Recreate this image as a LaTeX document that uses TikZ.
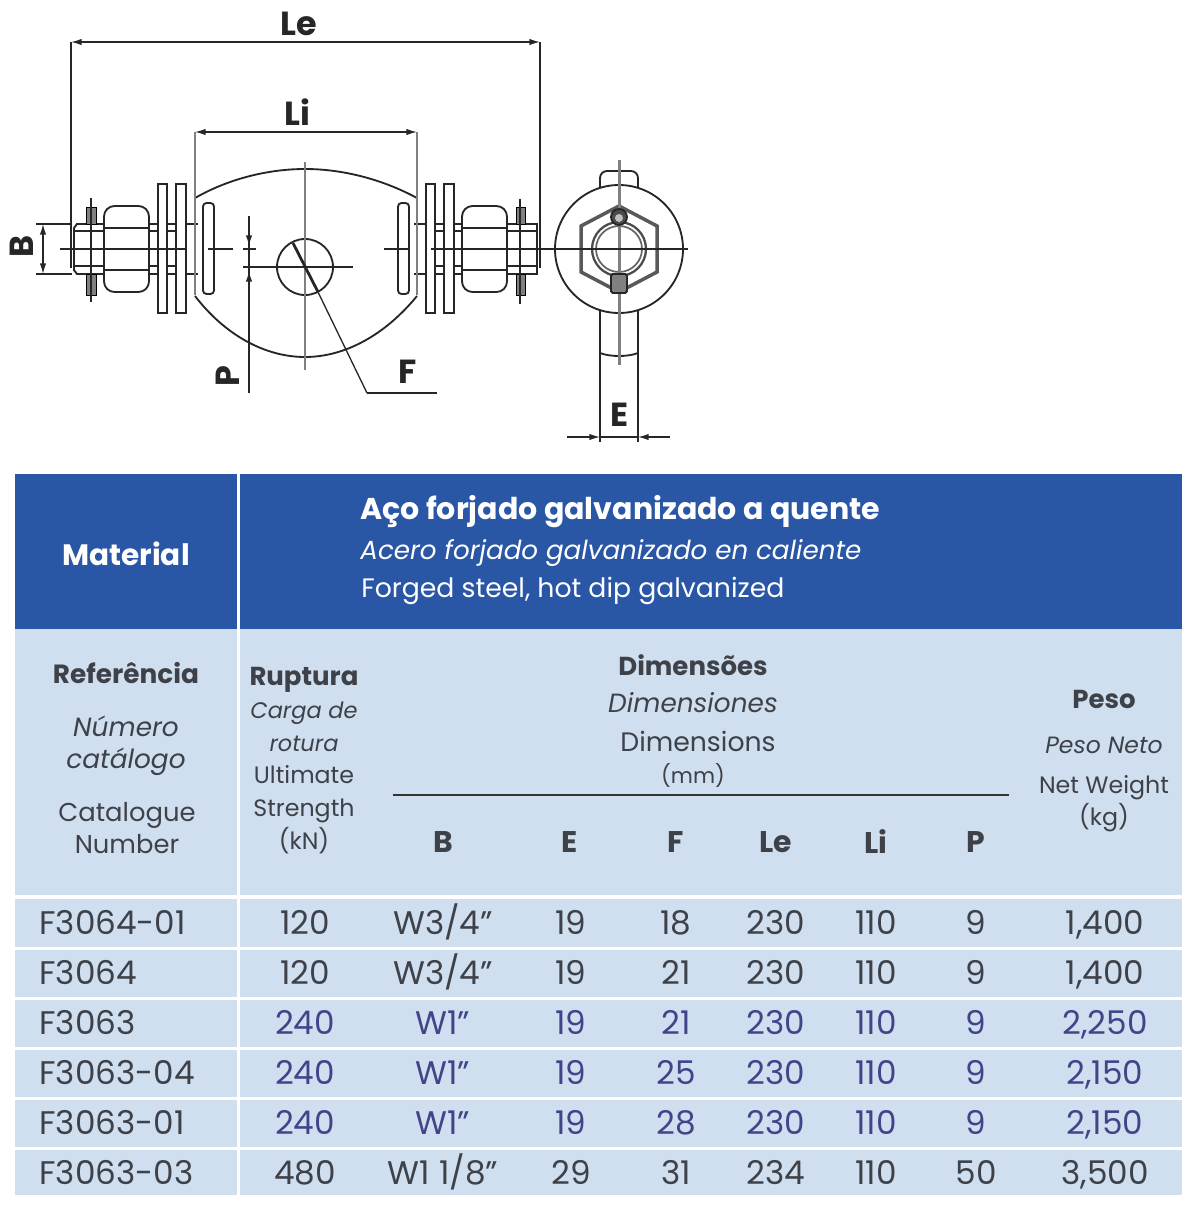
\documentclass[tikz,border=0pt]{standalone}
\usepackage{fontspec}
\setmainfont[Numbers=Monospaced]{Poppins}
\usetikzlibrary{arrows.meta}
\definecolor{headblue}{HTML}{2A56A6}
\definecolor{bodyblue}{HTML}{CFDFF0}
\definecolor{inkgrey}{HTML}{3E4148}
\definecolor{inkblue}{HTML}{3F4588}
\definecolor{axisgrey}{HTML}{808080}
\tikzset{
	part/.style={line width=1.05pt, color=black!85},
	thinpart/.style={line width=0.7pt, color=black!85},
	axis/.style={line width=1.7pt, color=axisgrey},
	dimline/.style={line width=0.75pt, color=black!85},
	dimtip/.style={>={Latex[length=6pt,width=3.6pt]}},
	dimarrow/.style={dimline, dimtip, <->},
	dimtext/.style={inner sep=0pt, color=black!85, font=\fontsize{19}{22}\selectfont\bfseries},
	cell/.style={inner sep=0pt, text height=13pt, text depth=0pt, color=inkgrey, font=\fontsize{18.6}{20}\selectfont},
	cellblue/.style={cell, color=inkblue},
	refcell/.style={cell, anchor=west},
	headtext/.style={inner sep=0pt, color=inkgrey, align=center, font=\fontsize{14.7}{18}\selectfont},
	headbold/.style={headtext, font=\fontsize{14.8}{18}\selectfont\bfseries},
	headital/.style={headtext, font=\fontsize{15}{18}\selectfont\itshape},
	colhead/.style={headtext, font=\fontsize{17}{20}\selectfont\bfseries},
	hightext/.style={inner sep=0pt, color=white, anchor=west, font=\fontsize{15.2}{20}\selectfont}
}
\begin{document}
\begin{tikzpicture}[x=0.02cm, y=-0.02cm]
	%%%%% START %%%%%
	\useasboundingbox (0, 0) rectangle (1200, 1210);

	% body
	\draw[part] (195, 198) .. controls (230, 178) and (270, 169) .. (305, 169) .. controls (340, 169) and (380, 178) .. (417, 198);
	\draw[part] (195, 296) .. controls (225, 335) and (265, 357) .. (305, 357) .. controls (345, 357) and (385, 335) .. (417, 296);
	\draw[part] (305, 267) circle (28);
	\draw[thinpart] (243, 267) -- (353, 267);
	\draw[part, rounded corners=2] (203, 203) rectangle (214, 294);
	\draw[part, rounded corners=2] (398, 203) rectangle (409, 294);
	\draw[thinpart] (208, 249) -- (233, 249);
	\draw[thinpart] (384, 249) -- (409, 249);

	% left bolt
	\draw[part] (186, 224) -- (77, 224) -- (74, 228) -- (74, 270) -- (77, 274) -- (186, 274);
	\draw[thinpart] (74, 231) -- (177, 231);
	\draw[thinpart] (74, 266) -- (177, 266);
	\draw[line width=0.4pt, fill=axisgrey] (86, 207) rectangle (96, 224);
	\draw[line width=0.4pt, fill=axisgrey] (86, 274) rectangle (96, 295);
	\draw[thinpart] (91, 198) -- (91, 302);
	\draw[part, fill=white, rounded corners=6] (104, 206) rectangle (149, 292);
	\draw[part, line width=1.4pt] (104, 228) -- (149, 228);
	\draw[part, line width=1.4pt] (104, 270) -- (149, 270);
	\draw[part, fill=white] (158, 184) rectangle (167, 313);
	\draw[part, fill=white] (176, 184) rectangle (186, 313);
	\draw[thinpart] (60, 249) -- (185, 249);
	\draw[part] (186, 224) -- (198, 224);
	\draw[part] (186, 274) -- (198, 274);

	% right bolt
	\draw[part] (426, 224) -- (537, 224) -- (537, 274) -- (426, 274);
	\draw[thinpart] (426, 231) -- (537, 231);
	\draw[thinpart] (426, 266) -- (537, 266);
	\draw[line width=0.4pt, fill=axisgrey] (516, 207) rectangle (525, 224);
	\draw[line width=0.4pt, fill=axisgrey] (516, 274) rectangle (525, 295);
	\draw[thinpart] (520, 199) -- (520, 304);
	\draw[part, fill=white, rounded corners=6] (462, 206) rectangle (507, 292);
	\draw[part, line width=1.4pt] (462, 228) -- (507, 228);
	\draw[part, line width=1.4pt] (462, 270) -- (507, 270);
	\draw[part, fill=white] (426, 184) rectangle (435, 313);
	\draw[part, fill=white] (444, 184) rectangle (454, 313);
	\draw[part] (414, 224) -- (426, 224);
	\draw[part] (414, 274) -- (426, 274);
	\draw[thinpart] (431, 249) -- (688, 249);

	% end view
	\draw[part, rounded corners=4] (600, 187) -- (600, 171) -- (638, 171) -- (638, 187);
	\draw[part] (619, 249) circle (64);
	\draw[part] (600, 310) -- (600, 442);
	\draw[part] (638, 310) -- (638, 442);
	\draw[part] (600, 353) .. controls (610, 357) and (628, 357) .. (638, 353);
	\draw[line width=2pt, color=black!65] (581, 226) -- (619, 206) -- (657, 226) -- (657, 272) -- (619, 292) -- (581, 272) -- cycle;
	\draw[line width=1.3pt, color=black!70] (619, 249) circle (27);
	\draw[line width=1pt, color=black!60] (619, 249) circle (23);

	% grey axes over the parts
	\draw[axis] (305, 162) -- (305, 370);
	\draw[axis] (619, 160) -- (619, 365);
	\draw[axis] (195, 132) -- (195, 295);
	\draw[axis] (417, 132) -- (417, 295);

	\draw[part, fill=black!70] (619, 217) circle (8);
	\draw[fill=black!25, draw=none] (619, 218) circle (4);
	\draw[part, fill=axisgrey, rounded corners=1] (611, 274) rectangle (627, 293);
	\draw[thinpart] (555, 249) -- (688, 249);

	% dimensions
	\draw[dimline] (71, 42) -- (71, 268);
	\draw[dimline] (540, 42) -- (540, 268);
	\draw[dimarrow] (71, 42) -- (540, 42);
	\draw[dimarrow] (195, 132) -- (417, 132);
	\draw[dimline] (36, 224) -- (72, 224);
	\draw[dimline] (36, 274) -- (72, 274);
	\draw[dimarrow] (43, 224) -- (43, 274);
	\draw[dimline] (249, 216) -- (249, 393);
	\draw[dimline, dimtip, ->] (249, 222) -- (249, 246);
	\draw[dimline, dimtip, ->] (249, 293) -- (249, 271);
	\draw[dimline] (243, 249) -- (256, 249);
	\draw[dimline, line width=1.6pt] (293, 243) -- (318, 292);
	\draw[dimline] (318, 292) -- (367, 393);
	\draw[dimline, line width=1.5pt] (367, 393) -- (437, 393);
	\draw[dimline, dimtip, ->] (567, 437) -- (600, 437);
	\draw[dimline, dimtip, ->] (670, 437) -- (638, 437);
	\draw[dimline] (600, 437) -- (638, 437);

	\node[dimtext] (labelLe) at (299, 24) {Le};
	\node[dimtext] (labelLi) at (297, 112) {Li};
	\node[dimtext, rotate=90] (labelB) at (22, 246) {B};
	\node[dimtext, rotate=90] (labelP) at (228, 376) {P};
	\node[dimtext] (labelF) at (408, 372) {F};
	\node[dimtext] (labelE) at (620, 415) {E};

	% table
	\fill[headblue] (15, 474) rectangle (1182, 629);
	\fill[bodyblue] (15, 629) rectangle (1182, 1195);
	\fill[white] (236.5, 474) rectangle (239.5, 1195);
	\fill[white] (15, 895) rectangle (1182, 899);
	\fill[white] (15, 947) rectangle (1182, 950);
	\fill[white] (15, 997) rectangle (1182, 1000);
	\fill[white] (15, 1047) rectangle (1182, 1050);
	\fill[white] (15, 1097) rectangle (1182, 1100);
	\fill[white] (15, 1147) rectangle (1182, 1150);
	\draw[line width=0.8pt, color=black!80] (393, 795) -- (1009, 795);

	\node[hightext, font=\fontsize{16.8}{20}\selectfont\bfseries] (material) at (62, 554) {Material};
	\node[hightext, font=\fontsize{17.1}{20}\selectfont\bfseries] (matpt) at (360, 512) {Aço forjado galvanizado a quente};
	\node[hightext, font=\fontsize{14.9}{20}\selectfont\itshape] (mates) at (360, 553) {Acero forjado galvanizado en caliente};
	\node[hightext] (maten) at (361, 591) {Forged steel, hot dip galvanized};

	\node[headbold, font=\fontsize{15}{18}\selectfont\bfseries] (refpt) at (126, 673) {Referência};
	\node[headital, font=\fontsize{15}{18}\selectfont\itshape] (refes) at (126, 746) {Número\\catálogo};
	\node[headtext] (refen) at (127, 828) {Catalogue\\Number};

	\node[headbold] (ruppt) at (304, 680) {Ruptura};
	\node[headital, font=\fontsize{12.8}{18.7}\selectfont\itshape] (rupes) at (304, 727) {Carga de\\rotura};
	\node[headtext, font=\fontsize{13.5}{18.7}\selectfont] (rupen) at (304, 810) {Ultimate\\Strength\\(kN)};

	\node[headbold] (dimpt) at (693, 665) {Dimensões};
	\node[headital] (dimes) at (693, 703) {Dimensiones};
	\node[headtext, font=\fontsize{15.2}{18}\selectfont] (dimen) at (698, 741) {Dimensions};
	\node[headtext, font=\fontsize{12.2}{18}\selectfont] (dimmm) at (693, 775) {(mm)};

	\node[headbold] (pesopt) at (1104, 699) {Peso};
	\node[headital, font=\fontsize{13.4}{18}\selectfont\itshape] (pesoes) at (1104, 745) {Peso Neto};
	\node[headtext, font=\fontsize{13.5}{18.2}\selectfont] (pesoen) at (1104, 804) {Net Weight\\(kg)};

	\node[colhead] (colB) at (443, 842) {B};
	\node[colhead] (colE) at (570, 842) {E};
	\node[colhead] (colF) at (676, 842) {F};
	\node[colhead] (colLe) at (776, 842) {Le};
	\node[colhead] (colLi) at (876, 842) {Li};
	\node[colhead] (colP) at (976, 842) {P};

	\node[refcell] (ref1) at (39, 923) {F3064-01};
	\node[cell] (rup1) at (305, 923) {120};
	\node[cell] (b1) at (443, 923) {W3/4”};
	\node[cell] (e1) at (571, 923) {19};
	\node[cell] (f1) at (676, 923) {18};
	\node[cell] (le1) at (776, 923) {230};
	\node[cell] (li1) at (876, 923) {110};
	\node[cell] (p1) at (976, 923) {9};
	\node[cell] (peso1) at (1105, 923) {1,400};

	\node[refcell] (ref2) at (39, 973) {F3064};
	\node[cell] (rup2) at (305, 973) {120};
	\node[cell] (b2) at (443, 973) {W3/4”};
	\node[cell] (e2) at (571, 973) {19};
	\node[cell] (f2) at (676, 973) {21};
	\node[cell] (le2) at (776, 973) {230};
	\node[cell] (li2) at (876, 973) {110};
	\node[cell] (p2) at (976, 973) {9};
	\node[cell] (peso2) at (1105, 973) {1,400};

	\node[refcell] (ref3) at (39, 1023) {F3063};
	\node[cellblue] (rup3) at (305, 1023) {240};
	\node[cellblue] (b3) at (443, 1023) {W1”};
	\node[cellblue] (e3) at (571, 1023) {19};
	\node[cellblue] (f3) at (676, 1023) {21};
	\node[cellblue] (le3) at (776, 1023) {230};
	\node[cellblue] (li3) at (876, 1023) {110};
	\node[cellblue] (p3) at (976, 1023) {9};
	\node[cellblue] (peso3) at (1105, 1023) {2,250};

	\node[refcell] (ref4) at (39, 1073) {F3063-04};
	\node[cellblue] (rup4) at (305, 1073) {240};
	\node[cellblue] (b4) at (443, 1073) {W1”};
	\node[cellblue] (e4) at (571, 1073) {19};
	\node[cellblue] (f4) at (676, 1073) {25};
	\node[cellblue] (le4) at (776, 1073) {230};
	\node[cellblue] (li4) at (876, 1073) {110};
	\node[cellblue] (p4) at (976, 1073) {9};
	\node[cellblue] (peso4) at (1105, 1073) {2,150};

	\node[refcell] (ref5) at (39, 1123) {F3063-01};
	\node[cellblue] (rup5) at (305, 1123) {240};
	\node[cellblue] (b5) at (443, 1123) {W1”};
	\node[cellblue] (e5) at (571, 1123) {19};
	\node[cellblue] (f5) at (676, 1123) {28};
	\node[cellblue] (le5) at (776, 1123) {230};
	\node[cellblue] (li5) at (876, 1123) {110};
	\node[cellblue] (p5) at (976, 1123) {9};
	\node[cellblue] (peso5) at (1105, 1123) {2,150};

	\node[refcell] (ref6) at (39, 1173) {F3063-03};
	\node[cell] (rup6) at (305, 1173) {480};
	\node[cell] (b6) at (443, 1173) {W1 1/8”};
	\node[cell] (e6) at (571, 1173) {29};
	\node[cell] (f6) at (676, 1173) {31};
	\node[cell] (le6) at (776, 1173) {234};
	\node[cell] (li6) at (876, 1173) {110};
	\node[cell] (p6) at (976, 1173) {50};
	\node[cell] (peso6) at (1105, 1173) {3,500};
	%%%%% END %%%%%
\end{tikzpicture}
\end{document}
